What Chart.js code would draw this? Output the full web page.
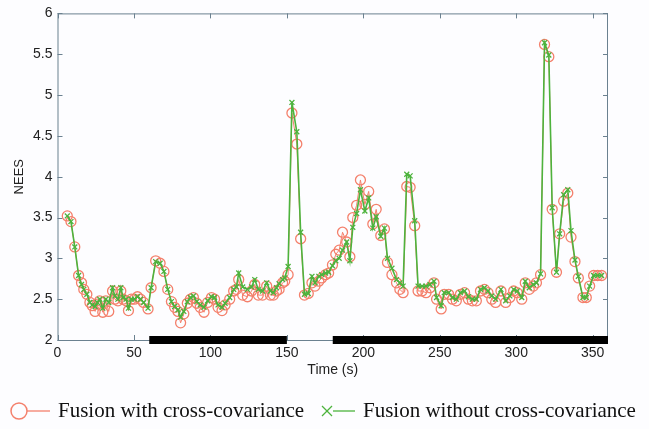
<!DOCTYPE html>
<html>
<head>
<meta charset="utf-8">
<script src="https://cdn.jsdelivr.net/npm/chart.js@4/dist/chart.umd.min.js"></script>
<style>
  html, body { margin: 0; padding: 0; background: #fdfdff; }
  #wrap { position: relative; width: 649px; height: 429px; }
  #legend { position: absolute; left: 0; top: 398px; width: 649px; height: 28px;
    font-family: "Liberation Serif", "DejaVu Serif", serif; font-size: 21px; color: #111;
    white-space: nowrap; }
  #legend .item { position: absolute; top: 0; display: flex; align-items: center; }
  #legend svg { margin-right: 6px; }
</style>
</head>
<body>
<div id="wrap">
  <canvas id="myChart" width="649" height="429"></canvas>
  <div id="legend">
    <div class="item" style="left:8px">
      <svg width="44" height="24"><circle cx="11" cy="12" r="8" fill="none" stroke="#f4806c" stroke-width="1.5"/><line x1="19" y1="12" x2="42" y2="12" stroke="#f4806c" stroke-width="1.3"/></svg>
      <span>Fusion with cross-covariance</span>
    </div>
    <div class="item" style="left:319px">
      <svg width="38" height="24"><line x1="3" y1="7" x2="13" y2="17" stroke="#4db33d" stroke-width="1.3"/><line x1="13" y1="7" x2="3" y2="17" stroke="#4db33d" stroke-width="1.3"/><line x1="14" y1="12" x2="36" y2="12" stroke="#4db33d" stroke-width="1.3"/></svg>
      <span>Fusion without cross-covariance</span>
    </div>
  </div>
</div>
<script>
const times = [6.4, 8.8, 11.3, 13.8, 15.7, 17.2, 19.2, 21.2, 22.7, 24.6,
  26.1, 27.6, 29.6, 31.6, 33.5, 36, 37.5, 39.5, 41.4, 42.9,
  44.9, 46.4, 48.3, 50.3, 52.3, 54.3, 56.3, 59.2, 61.2, 64.2,
  67.1, 69.6, 72.1, 74.5, 76.6, 78.8, 80.5, 82.6, 84.9, 86.9,
  88.9, 91.1, 93.3, 95.8, 98.2, 100.7, 102.7, 105, 107.6, 109.6,
  112.6, 115.2, 117, 118.5, 121.1, 124.2, 126.9, 129, 131.3, 134.1,
  136.8, 139.2, 141.2, 143.2, 144.9, 147.2, 148.6, 150.8, 153.3, 156.5,
  159, 161.5, 164, 166.4, 168.4, 170.9, 172.8, 175.3, 177.3, 179.8,
  182, 184.2, 186.4, 189.1, 191.2, 193.1, 195.6, 198.1, 201, 203.5,
  206.2, 208.4, 211.4, 213.8, 215.8, 218.7, 221.7, 223.9, 226, 228.4,
  230.6, 233.6, 235.8, 238.4, 241, 243.6, 246.2, 247.9, 250.9, 252.9,
  255.8, 258.3, 260.8, 263.5, 266.2, 268.7, 271.3, 273.9, 276.6, 279.2,
  281.5, 284, 286.5, 290, 293.1, 295.8, 298.3, 300.6, 303.6, 305.9,
  308.5, 311.2, 313.2, 315.9, 318.5, 321.3, 323.5, 326.3, 328.4, 331,
  333.7, 335.8, 338.4, 340.6, 343.6, 345.8, 348, 350.6, 353.2, 355.8];

// NEES, fusion with cross-covariance (red circles)
const withCov = [3.52, 3.45, 3.14, 2.79, 2.7, 2.62, 2.56, 2.46, 2.42, 2.35,
  2.44, 2.48, 2.34, 2.48, 2.35, 2.6, 2.5, 2.48, 2.6, 2.5,
  2.48, 2.36, 2.5, 2.5, 2.53, 2.5, 2.46, 2.38, 2.64, 2.97,
  2.94, 2.84, 2.62, 2.47, 2.4, 2.35, 2.21, 2.32, 2.45, 2.5,
  2.52, 2.45, 2.4, 2.34, 2.46, 2.52, 2.5, 2.4, 2.36, 2.43,
  2.5, 2.6, 2.62, 2.74, 2.55, 2.53, 2.6, 2.68, 2.55, 2.55,
  2.66, 2.55, 2.55, 2.6, 2.62, 2.7, 2.72, 2.8, 4.78, 4.4,
  3.24, 2.55, 2.57, 2.7, 2.66, 2.72, 2.76, 2.8, 2.82, 2.92,
  3.05, 3.1, 3.32, 3.2, 3.02, 3.5, 3.65, 3.96, 3.66, 3.82,
  3.42, 3.6, 3.28, 3.36, 2.95, 2.8, 2.7, 2.62, 2.58, 3.88,
  3.87, 3.4, 2.6, 2.6, 2.58, 2.64, 2.7, 2.5, 2.38, 2.56,
  2.56, 2.5, 2.48, 2.56, 2.58, 2.5, 2.48, 2.48, 2.6, 2.62,
  2.58, 2.5, 2.46, 2.6, 2.46, 2.52, 2.6, 2.58, 2.5, 2.7,
  2.62, 2.66, 2.7, 2.8, 5.62, 5.47, 3.6, 2.83, 3.3, 3.7,
  3.8, 3.26, 2.96, 2.76, 2.52, 2.52, 2.66, 2.79, 2.79, 2.79];

// NEES, fusion without cross-covariance (green crosses)
const withoutCov = [3.52, 3.45, 3.14, 2.79, 2.68, 2.62, 2.56, 2.46, 2.43, 2.41,
  2.46, 2.5, 2.39, 2.5, 2.46, 2.64, 2.54, 2.5, 2.64, 2.52,
  2.5, 2.39, 2.5, 2.5, 2.53, 2.5, 2.46, 2.39, 2.64, 2.96,
  2.94, 2.84, 2.62, 2.47, 2.41, 2.37, 2.28, 2.35, 2.47, 2.52,
  2.54, 2.47, 2.43, 2.4, 2.48, 2.53, 2.52, 2.43, 2.4, 2.45,
  2.52, 2.62, 2.65, 2.82, 2.65, 2.62, 2.65, 2.74, 2.62, 2.6,
  2.7, 2.6, 2.58, 2.64, 2.69, 2.74, 2.76, 2.9, 4.91, 4.55,
  3.32, 2.56, 2.57, 2.78, 2.7, 2.78, 2.8, 2.82, 2.83, 2.91,
  2.97, 3.0, 3.1, 3.2, 2.97, 3.38, 3.55, 3.84, 3.58, 3.74,
  3.37, 3.51, 3.27, 3.37, 3.0, 2.88, 2.74, 2.7, 2.66, 4.03,
  4.01, 3.46, 2.66, 2.66, 2.66, 2.68, 2.72, 2.52, 2.42, 2.58,
  2.58, 2.52, 2.5, 2.58, 2.6, 2.53, 2.5, 2.5, 2.62, 2.64,
  2.6, 2.54, 2.5, 2.62, 2.48, 2.54, 2.62, 2.6, 2.52, 2.72,
  2.64, 2.68, 2.7, 2.81, 5.64, 5.49, 3.62, 2.83, 3.3, 3.78,
  3.84, 3.34, 2.98, 2.78, 2.52, 2.52, 2.66, 2.79, 2.79, 2.79];

// black segments on the time axis
const blackBarSpans = [[60, 150], [180, 360]];

const xTickValues = [0, 50, 100, 150, 200, 250, 300, 350];
const yTickValues = [2, 2.5, 3, 3.5, 4, 4.5, 5, 5.5, 6];

const redColor = '#f4806c';
const greenColor = '#4db33d';
const axisColor = '#6b8190';

const toPoints = (ys) => times.map((t, i) => ({ x: t, y: ys[i] }));

const barDatasets = blackBarSpans.map(span => ({
  label: 'bar',
  data: [{ x: span[0], y: 2 }, { x: span[1], y: 2 }],
  borderColor: '#000',
  borderWidth: 8,
  borderCapStyle: 'butt',
  pointRadius: 0,
  clip: false,
  order: 0
}));

// box and inward tick marks on all four sides
const boxPlugin = {
  id: 'box',
  beforeDatasetsDraw(chart) {
    const { ctx, chartArea: a, scales } = chart;
    ctx.save();
    ctx.strokeStyle = axisColor;
    ctx.lineWidth = 1;
    ctx.strokeRect(a.left + 0.5, a.top + 0.5, a.right - a.left - 1, a.bottom - a.top);
    ctx.beginPath();
    xTickValues.forEach(v => {
      const px = Math.round(scales.x.getPixelForValue(v)) + 0.5;
      ctx.moveTo(px, a.bottom); ctx.lineTo(px, a.bottom - 5);
      ctx.moveTo(px, a.top); ctx.lineTo(px, a.top + 5);
    });
    yTickValues.forEach(v => {
      const py = Math.round(scales.y.getPixelForValue(v)) + 0.5;
      ctx.moveTo(a.left, py); ctx.lineTo(a.left + 5, py);
      ctx.moveTo(a.right, py); ctx.lineTo(a.right - 5, py);
    });
    ctx.stroke();
    ctx.restore();
  }
};

const ctx = document.getElementById('myChart').getContext('2d');
new Chart(ctx, {
  type: 'line',
  data: {
    datasets: [
      {
        label: 'Fusion with cross-covariance',
        data: toPoints(withCov),
        borderColor: redColor,
        borderWidth: 1,
        pointStyle: 'circle',
        pointRadius: 5,
        pointBorderWidth: 1.3,
        pointBorderColor: redColor,
        pointBackgroundColor: 'rgba(0,0,0,0)',
        order: 2
      },
      {
        label: 'Fusion without cross-covariance',
        data: toPoints(withoutCov),
        borderColor: greenColor,
        borderWidth: 1.6,
        pointStyle: 'crossRot',
        pointRadius: 3.5,
        pointBorderWidth: 1.3,
        pointBorderColor: greenColor,
        order: 1
      },
      ...barDatasets
    ]
  },
  options: {
    responsive: false,
    animation: false,
    layout: { padding: { left: 12, right: 41, top: 10, bottom: 50 } },
    plugins: {
      legend: { display: false },
      tooltip: { enabled: false }
    },
    scales: {
      x: {
        type: 'linear',
        min: 0,
        max: 360,
        grid: { display: false, drawTicks: false },
        border: { display: false },
        ticks: {
          stepSize: 50,
          includeBounds: false,
          padding: 5,
          maxRotation: 0,
          color: '#222',
          font: { family: 'Liberation Sans', size: 14 }
        },
        title: {
          display: true,
          text: 'Time (s)',
          color: '#222',
          padding: { top: 0, bottom: 0 },
          font: { family: 'Liberation Sans', size: 14 }
        },
        afterFit(scale) { scale.height = 39; }
      },
      y: {
        min: 2,
        max: 6,
        grid: { display: false, drawTicks: false },
        border: { display: false },
        ticks: {
          stepSize: 0.5,
          padding: 5,
          color: '#222',
          font: { family: 'Liberation Sans', size: 14 },
          callback: (value) => String(value)
        },
        title: {
          display: true,
          text: 'NEES',
          color: '#222',
          padding: { top: 0, bottom: 0 },
          font: { family: 'Liberation Sans', size: 13 }
        },
        afterFit(scale) { scale.width = 45.5; }
      }
    }
  },
  plugins: [boxPlugin]
});
</script>
</body>
</html>
